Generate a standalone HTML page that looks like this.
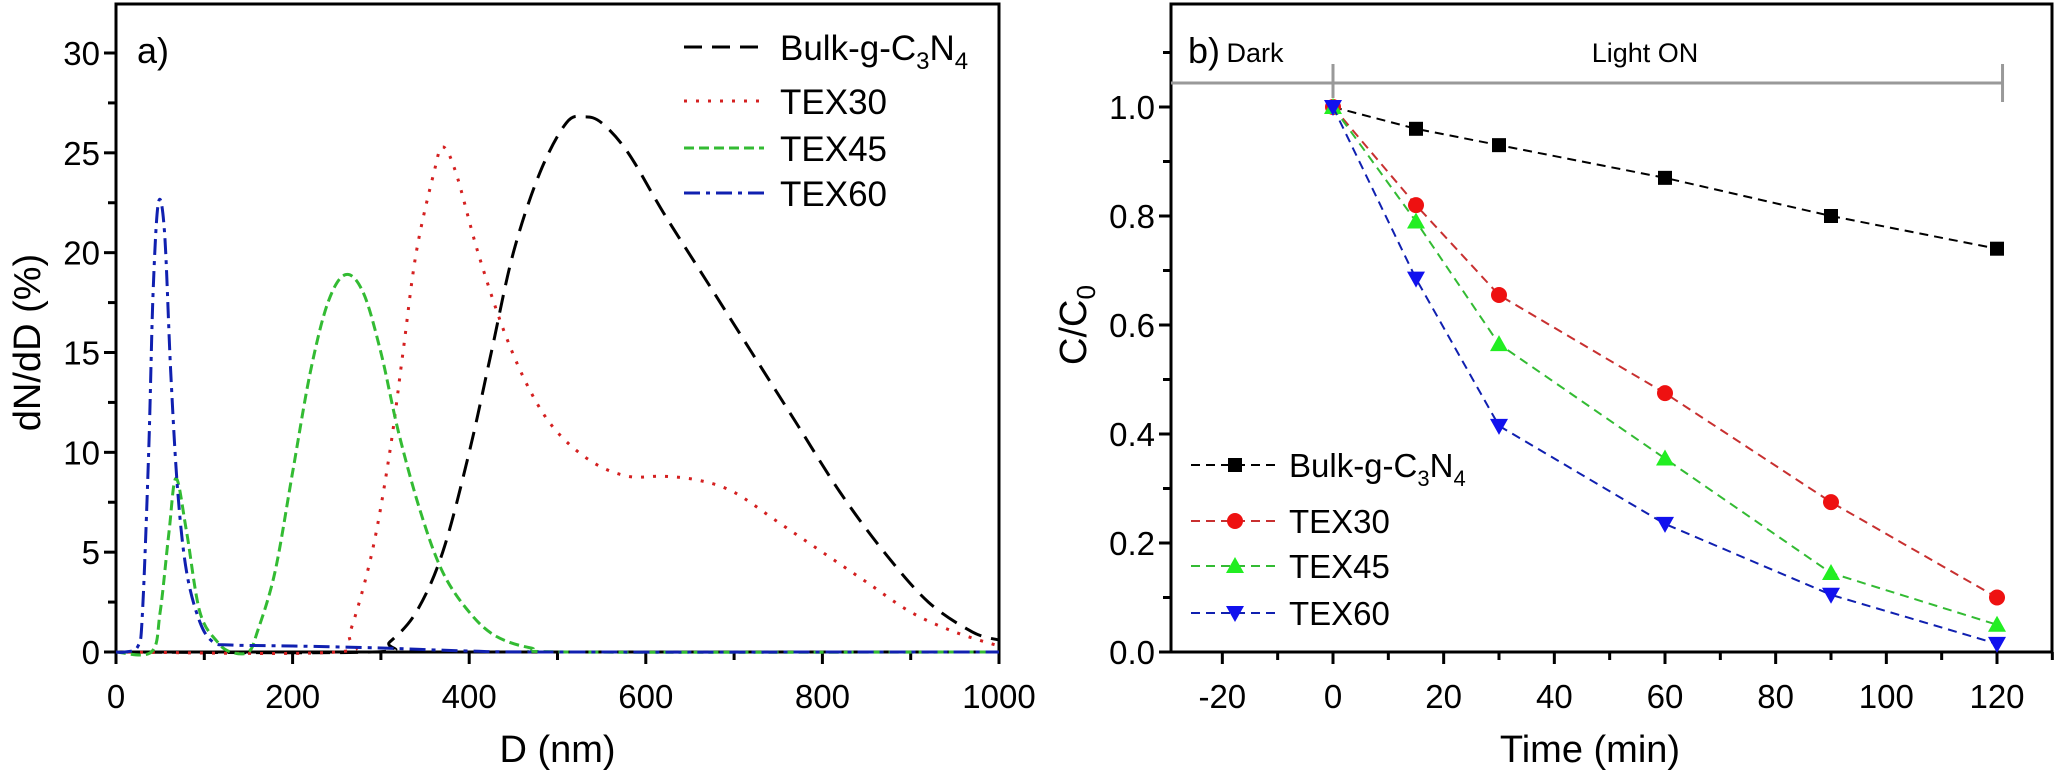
<!DOCTYPE html>
<html><head><meta charset="utf-8"><style>
html,body{margin:0;padding:0;background:#fff;}
svg text{font-family:"Liberation Sans",Arial,sans-serif;}
</style></head><body>
<svg id="fig" width="2056" height="772" viewBox="0 0 2056 772" xmlns="http://www.w3.org/2000/svg">
<g id="pa"></g>
<g id="pb"></g>
</svg>
<script>
// ---- Panel a data ----
const bulkD = [0,290,310,340,370,400,425,450,480,510,530,550,580,620,670,720,770,820,870,920,970,1000];
const bulkV = [0,0,0.5,2,5,10,15,20,24,26.5,26.8,26.5,25,22,18.5,15,11.5,8,5,2.5,1,0.6];
const t30D = [0,250,265,290,310,325,340,360,370,385,410,440,470,500,540,580,620,660,700,750,800,850,900,950,1000];
const t30V = [0,0,1,5,10,15,20,24,25.3,24,20,16,13,11,9.5,8.8,8.8,8.6,8,6.5,5,3.5,2,1,0.3];
const t45D = [0,40,50,60,68,80,95,115,130,150,160,180,200,220,240,260,280,300,320,345,370,400,430,470,520,1000];
const t45V = [0,0,2,6,8.7,6,2,0.5,0,0,1,4,9,14,17.5,18.9,18,15,11,7,4,2,0.8,0.2,0,0];
const t60D = [0,10,25,30,37,42,48,55,62,70,80,95,110,130,200,300,400,500,1000];
const t60V = [0,0,0.3,2,10,18,22.5,21,14,8,4,1.5,0.5,0.35,0.3,0.2,0.05,0,0];
const aXTicks = [0,200,400,600,800,1000];
const aYTicks = [0,5,10,15,20,25,30];
// ---- Panel b data ----
const times = [0,15,30,60,90,120];
const bulkC = [1,0.96,0.93,0.87,0.80,0.74];
const tex30C = [1,0.82,0.655,0.475,0.275,0.1];
const tex45C = [1,0.79,0.565,0.355,0.145,0.05];
const tex60C = [1,0.685,0.415,0.235,0.105,0.015];
const bXTicks = [-20,0,20,40,60,80,100,120];
const bYTicks = [0,0.2,0.4,0.6,0.8,1.0];

const NS='http://www.w3.org/2000/svg';
function mk(parent,tag,attrs,text){const e=document.createElementNS(NS,tag);for(const k in attrs)e.setAttribute(k,attrs[k]);if(text!==undefined)e.textContent=text;parent.appendChild(e);return e;}

// Panel a axes
const aL=116,aR=999,aT=4,aB=652;
const ax=d=>aL+(d-0)/(1000-0)*(aR-aL);
const ay=v=>aB-v*(aB-53)/30;
const pa=document.getElementById('pa');
let e;
e=mk(pa,'rect',{x:aL,y:aT,width:aR-aL,height:aB-aT,fill:'none',stroke:'#000','stroke-width':3});


for(let d=0;d<=1000;d+=100){const big=d%200===0;e=mk(pa,'line',{x1:ax(d),x2:ax(d),y1:aB,y2:aB+(big?12:8),stroke:'#000','stroke-width':3});

}
aXTicks.forEach(d=>{e=mk(pa,'text',{x:ax(d),y:708,'font-size':33,'text-anchor':'middle'},String(d));

});
for(let v=0;v<=30;v+=2.5){const big=v%5===0;e=mk(pa,'line',{x1:aL-(big?12:8),x2:aL,y1:ay(v),y2:ay(v),stroke:'#000','stroke-width':3});

}
aYTicks.forEach(v=>{e=mk(pa,'text',{x:aL-16,y:ay(v)+12,'font-size':33,'text-anchor':'end'},String(v));

});
e=mk(pa,'text',{x:ax(500),y:762,'font-size':38,'text-anchor':'middle'},'D (nm)');


e=mk(pa,'text',{x:0,y:0,'font-size':38,'text-anchor':'middle',transform:`translate(40,${ay(15.5)}) rotate(-90)`},'dN/dD (%)');


e=mk(pa,'text',{x:137,y:63,'font-size':36},'a)');



function smoothPath(xs,ys){let p=xs.map((x,i)=>[x,ys[i]]);let s=`M${p[0][0]},${p[0][1]}`;
for(let i=0;i<p.length-1;i++){const p0=p[Math.max(0,i-1)],p1=p[i],p2=p[i+1],p3=p[Math.min(p.length-1,i+2)];
const c1=[p1[0]+(p2[0]-p0[0])/6,p1[1]+(p2[1]-p0[1])/6],c2=[p2[0]-(p3[0]-p1[0])/6,p2[1]-(p3[1]-p1[1])/6];
s+=` C${c1[0]},${c1[1]} ${c2[0]},${c2[1]} ${p2[0]},${p2[1]}`;}return s;}
const aSeries=[
 {D:bulkD,V:bulkV,c:'#000',dash:'18,10',name:'Bulk-g-C',n:'curve-bulk'},
 {D:t30D,V:t30V,c:'#d42020',dash:'3,9',name:'TEX30',n:'curve-tex30'},
 {D:t45D,V:t45V,c:'#33bb33',dash:'10,5',name:'TEX45',n:'curve-tex45'},
 {D:t60D,V:t60V,c:'#1020b0',dash:'16,6,4,6',name:'TEX60',n:'curve-tex60'}];
const legY=[47,101,148,193];
aSeries.forEach((s,i)=>{
 e=mk(pa,'path',{d:smoothPath(s.D.map(ax),s.V.map(ay)),fill:'none',stroke:s.c,'stroke-width':3,'stroke-dasharray':s.dash});
 
 
 e=mk(pa,'line',{x1:684,x2:764,y1:legY[i],y2:legY[i],stroke:s.c,'stroke-width':3,'stroke-dasharray':s.dash});
 
 
 const t=mk(pa,'text',{x:780,y:legY[i]+13,'font-size':35});
 
 
 if(i===0){t.innerHTML='Bulk-g-C<tspan font-size="24" dy="9">3</tspan><tspan dy="-9">N</tspan><tspan font-size="24" dy="9">4</tspan>';}else t.textContent=s.name;
});

// Panel b
const bL=1171,bR=2052,bT=4,bB=652;
const bx=t=>1333+t*(1997-1333)/120;
const by=v=>bB-v*(bB-107)/1.0;
const pb=document.getElementById('pb');
e=mk(pb,'rect',{x:bL,y:bT,width:bR-bL,height:bB-bT,fill:'none',stroke:'#000','stroke-width':3});


for(let t=-20;t<=130;t+=10){const big=t%20===0;e=mk(pb,'line',{x1:bx(t),x2:bx(t),y1:bB,y2:bB+(big?12:8),stroke:'#000','stroke-width':3});

}
bXTicks.forEach(t=>{e=mk(pb,'text',{x:bx(t),y:708,'font-size':33,'text-anchor':'middle'},String(t));

});
for(let k=0;k<=11;k++){const v=k/10;const big=k%2===0;e=mk(pb,'line',{x1:bL-(big?12:8),x2:bL,y1:by(v),y2:by(v),stroke:'#000','stroke-width':3});

}
bYTicks.forEach(v=>{e=mk(pb,'text',{x:bL-16,y:by(v)+12,'font-size':33,'text-anchor':'end'},v.toFixed(1));

});
e=mk(pb,'text',{x:1590,y:762,'font-size':38,'text-anchor':'middle'},'Time (min)');


e=mk(pb,'text',{x:0,y:0,'font-size':38,'text-anchor':'middle',transform:`translate(1086,${by(0.6)}) rotate(-90)`});
e.innerHTML='C/C<tspan font-size="26" dy="9">0</tspan>';


e=mk(pb,'text',{x:1188,y:63,'font-size':36},'b)');


// Dark / Light bar
e=mk(pb,'line',{x1:bL,x2:bx(121),y1:83,y2:83,stroke:'#999','stroke-width':3});


e=mk(pb,'line',{x1:bx(0),x2:bx(0),y1:64,y2:98,stroke:'#999','stroke-width':3});


e=mk(pb,'line',{x1:bx(121),x2:bx(121),y1:64,y2:102,stroke:'#999','stroke-width':3});


e=mk(pb,'text',{x:1255,y:62,'font-size':27,'text-anchor':'middle'},'Dark');


e=mk(pb,'text',{x:1645,y:62,'font-size':27,'text-anchor':'middle'},'Light ON');



function marker(g,type,x,y,c){let m;
 if(type==='sq')m=mk(g,'rect',{x:x-7,y:y-7,width:14,height:14,fill:c});
 else if(type==='ci')m=mk(g,'circle',{cx:x,cy:y,r:8,fill:c});
 else if(type==='up')m=mk(g,'polygon',{points:`${x},${y-9} ${x-9},${y+7} ${x+9},${y+7}`,fill:c});
 else m=mk(g,'polygon',{points:`${x},${y+9} ${x-9},${y-7} ${x+9},${y-7}`,fill:c});
 return m;}
const bSeries=[
 {v:bulkC,c:'#000',m:'sq',name:'Bulk',n:'bulk'},
 {v:tex30C,c:'#ee1111',lc:'#c83030',m:'ci',name:'TEX30',n:'tex30'},
 {v:tex45C,c:'#22ee22',lc:'#33bb33',m:'up',name:'TEX45',n:'tex45'},
 {v:tex60C,c:'#1111ee',lc:'#1020b0',m:'dn',name:'TEX60',n:'tex60'}];
const lgY=[465,521,566,613];
bSeries.forEach((s,i)=>{
 const lc=s.lc||s.c;
 e=mk(pb,'polyline',{points:times.map((t,j)=>bx(t)+','+by(s.v[j])).join(' '),fill:'none',stroke:lc,'stroke-width':2,'stroke-dasharray':'9,6'});
 
 
 times.forEach((t,j)=>{const m=marker(pb,s.m,bx(t),by(s.v[j]),s.c);
  
  });
 e=mk(pb,'line',{x1:1191,x2:1277,y1:lgY[i],y2:lgY[i],stroke:lc,'stroke-width':2,'stroke-dasharray':'9,6'});
 
 
 e=marker(pb,s.m,1235,lgY[i],s.c);
 
 
 const t=mk(pb,'text',{x:1289,y:lgY[i]+12,'font-size':33});
 
 
 if(i===0)t.innerHTML='Bulk-g-C<tspan font-size="22" dy="9">3</tspan><tspan dy="-9">N</tspan><tspan font-size="22" dy="9">4</tspan>';else t.textContent=s.name;
});
</script>
</body></html>
